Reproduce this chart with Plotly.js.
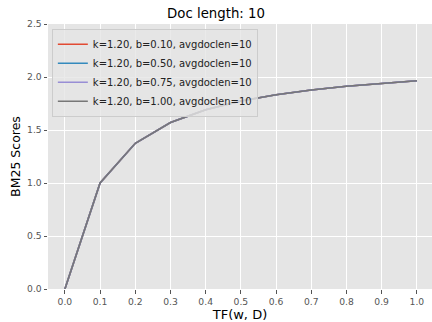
<!DOCTYPE html>
<html>
<head>
<meta charset="utf-8">
<script src="https://cdn.plot.ly/plotly-3.0.1.min.js"></script>
<style>html,body{margin:0;padding:0;background:#fff;}#chart{width:432px;height:322px;}</style>
</head>
<body>
<div id="chart"></div>
<script>
const tf = [0.0, 0.1, 0.2, 0.3, 0.4, 0.5, 0.6, 0.7, 0.8, 0.9, 1.0];
const scoresB010 = [0.0, 1.0, 1.375, 1.571, 1.692, 1.774, 1.833, 1.878, 1.913, 1.941, 1.964];
const scoresB050 = [0.0, 1.0, 1.375, 1.571, 1.692, 1.774, 1.833, 1.878, 1.913, 1.941, 1.964];
const scoresB075 = [0.0, 1.0, 1.375, 1.571, 1.692, 1.774, 1.833, 1.878, 1.913, 1.941, 1.964];
const scoresB100 = [0.0, 1.0, 1.375, 1.571, 1.692, 1.774, 1.833, 1.878, 1.913, 1.941, 1.964];
const seriesNames = ["k=1.20, b=0.10, avgdoclen=10", "k=1.20, b=0.50, avgdoclen=10", "k=1.20, b=0.75, avgdoclen=10", "k=1.20, b=1.00, avgdoclen=10"];
const xTicks = [0.0, 0.1, 0.2, 0.3, 0.4, 0.5, 0.6, 0.7, 0.8, 0.9, 1.0];
const xTickText = ["0.0", "0.1", "0.2", "0.3", "0.4", "0.5", "0.6", "0.7", "0.8", "0.9", "1.0"];
const yTicks = [0.0, 0.5, 1.0, 1.5, 2.0, 2.5];
const yTickText = ["0.0", "0.5", "1.0", "1.5", "2.0", "2.5"];

const colors = ["#E24A33", "#348ABD", "#988ED5", "#777777"];
const allScores = [scoresB010, scoresB050, scoresB075, scoresB100];
const traces = allScores.map((s, i) => ({
  x: tf, y: s, type: "scatter", mode: "lines", name: seriesNames[i],
  line: {color: colors[i], width: 1.6}
}));

const font = "'DejaVu Sans', sans-serif";
const layout = {
  width: 432, height: 322,
  margin: {l: 48, r: 0, t: 24, b: 33},
  paper_bgcolor: "#ffffff",
  plot_bgcolor: "#E5E5E5",
  font: {family: font, color: "#555555", size: 10},
  title: {text: "Doc length: 10", font: {family: font, size: 13.3, color: "#000000"}, x: 0.5, xanchor: "center", y: 1, yref: "paper", yanchor: "bottom", pad: {b: 6}},
  showlegend: true,
  legend: {
    x: 0.01, y: 0.982, xanchor: "left", yanchor: "top",
    bgcolor: "rgba(229,229,229,0.8)", bordercolor: "#CCCCCC", borderwidth: 1,
    font: {family: font, size: 10, color: "#222222"},
    tracegroupgap: 0, itemwidth: 30
  },
  xaxis: {
    range: [-0.048, 1.043], tickvals: xTicks, ticktext: xTickText,
    showgrid: true, gridcolor: "#FFFFFF", gridwidth: 1, zeroline: false,
    ticks: "outside", ticklen: 3.5, tickcolor: "#555555", tickwidth: 1,
    tickfont: {family: font, size: 9.2, color: "#555555"},
    showline: false,
    title: {text: "TF(w, D)", font: {family: font, size: 13, color: "#000000"}, standoff: 4}
  },
  yaxis: {
    range: [0, 2.5], tickvals: yTicks, ticktext: yTickText,
    showgrid: true, gridcolor: "#FFFFFF", gridwidth: 1, zeroline: false,
    ticks: "outside", ticklen: 3.5, tickcolor: "#555555", tickwidth: 1,
    tickfont: {family: font, size: 9.2, color: "#555555"},
    showline: false,
    title: {text: "BM25 Scores", font: {family: font, size: 12.5, color: "#000000"}, standoff: 3}
  }
};
Plotly.newPlot("chart", traces, layout, {displayModeBar: false, staticPlot: true});
</script>
</body>
</html>
